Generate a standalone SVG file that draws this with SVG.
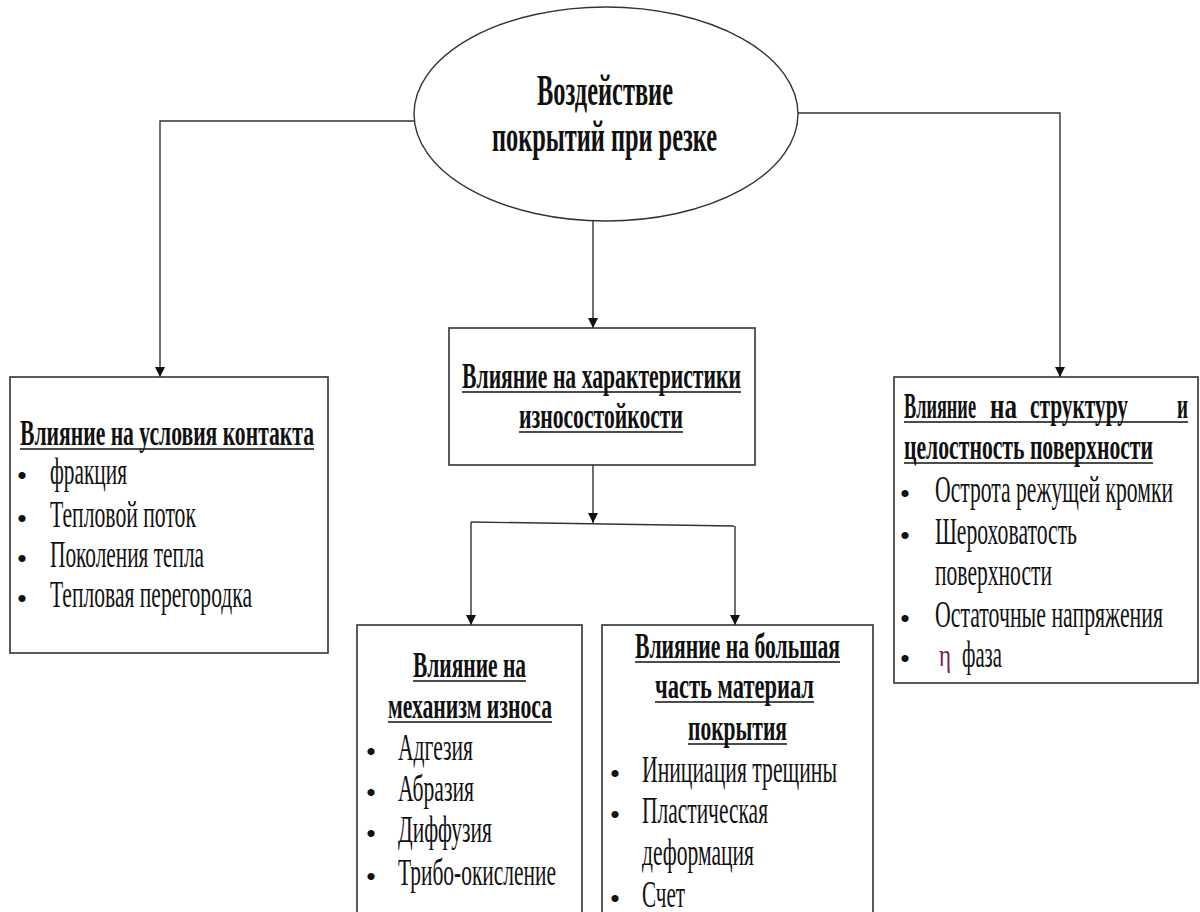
<svg xmlns="http://www.w3.org/2000/svg" width="1200" height="912" viewBox="0 0 1200 912">
<style>
.box{fill:#fff;stroke:#333;stroke-width:1.6}
.ln{fill:none;stroke:#333;stroke-width:1.4}
.ul{stroke:#111;stroke-width:1.6}
.h{font-family:"Liberation Serif","Times New Roman",serif;font-weight:bold;font-size:35px;fill:#111}
.t{font-family:"Liberation Serif","Times New Roman",serif;font-size:37px;fill:#111}
.b{font-family:"Liberation Serif","Times New Roman",serif;font-size:30px;fill:#111;text-anchor:middle}
.e{font-family:"Liberation Serif","Times New Roman",serif;font-weight:bold;font-size:44px;fill:#111}
.eta{font-family:"Liberation Serif","Times New Roman",serif;font-size:32px;fill:#7b1c4e}
</style>
<defs>
<marker id="arr" viewBox="0 0 10 10" refX="10" refY="5" markerWidth="10" markerHeight="12" markerUnits="userSpaceOnUse" orient="auto">
<path d="M0,0 L10,5 L0,10 z" fill="#111"/>
</marker>
</defs>
<rect width="1200" height="912" fill="#fff"/>
<g id="connectors">
<path class="ln" d="M414,121 L160,121 L160,377" marker-end="url(#arr)"/>
<path class="ln" d="M798,113 L1060,113 L1060,377" marker-end="url(#arr)"/>
<path class="ln" d="M593,220 L593,328" marker-end="url(#arr)"/>
<path class="ln" d="M593,465 L593,523" marker-end="url(#arr)"/>
<path class="ln" d="M471,522 L734,526"/>
<path class="ln" d="M471,522 L471,625" marker-end="url(#arr)"/>
<path class="ln" d="M735,526 L735,625" marker-end="url(#arr)"/>
</g>
<g id="root">
<ellipse cx="606" cy="114" rx="192" ry="107" fill="#fff" stroke="#333" stroke-width="1.4"/>
<text class="e" x="537" y="105" textLength="136" lengthAdjust="spacingAndGlyphs">Воздействие</text>
<text class="e" x="492" y="151" textLength="225" lengthAdjust="spacingAndGlyphs">покрытий при резке</text>
</g>
<g id="contact">
<rect class="box" x="10" y="377" width="318" height="276"/>
<text class="h" x="20" y="445" textLength="294" lengthAdjust="spacingAndGlyphs">Влияние на условия контакта</text>
<line class="ul" x1="20" y1="449" x2="314" y2="449"/>
<text class="b" x="22" y="486">•</text><text class="t" x="50" y="484" textLength="77" lengthAdjust="spacingAndGlyphs">фракция</text>
<text class="b" x="22" y="529">•</text><text class="t" x="50" y="527" textLength="146" lengthAdjust="spacingAndGlyphs">Тепловой поток</text>
<text class="b" x="22" y="569">•</text><text class="t" x="50" y="567" textLength="154" lengthAdjust="spacingAndGlyphs">Поколения тепла</text>
<text class="b" x="22" y="609">•</text><text class="t" x="50" y="607" textLength="202" lengthAdjust="spacingAndGlyphs">Тепловая перегородка</text>
</g>
<g id="wear">
<rect class="box" x="449" y="328" width="306" height="137"/>
<text class="h" x="462" y="388" textLength="279" lengthAdjust="spacingAndGlyphs">Влияние на характеристики</text>
<line class="ul" x1="462" y1="392" x2="741" y2="392"/>
<text class="h" x="519" y="428" textLength="164" lengthAdjust="spacingAndGlyphs">износостойкости</text>
<line class="ul" x1="519" y1="432" x2="683" y2="432"/>
</g>
<g id="surface">
<rect class="box" x="894" y="377" width="304" height="306"/>
<text class="h" x="904" y="418" textLength="72" lengthAdjust="spacingAndGlyphs">Влияние</text>
<text class="h" x="990" y="418" textLength="27" lengthAdjust="spacingAndGlyphs">на</text>
<text class="h" x="1030" y="418" textLength="98" lengthAdjust="spacingAndGlyphs">структуру</text>
<text class="h" x="1177" y="418" textLength="11" lengthAdjust="spacingAndGlyphs">и</text>
<line class="ul" x1="904" y1="422" x2="1188" y2="422"/>
<text class="h" x="904" y="459" textLength="249" lengthAdjust="spacingAndGlyphs">целостность поверхности</text>
<line class="ul" x1="904" y1="463" x2="1153" y2="463"/>
<text class="b" x="905" y="504">•</text><text class="t" x="935" y="502" textLength="238" lengthAdjust="spacingAndGlyphs">Острота режущей кромки</text>
<text class="b" x="905" y="546">•</text><text class="t" x="935" y="544" textLength="142" lengthAdjust="spacingAndGlyphs">Шероховатость</text>
<text class="t" x="935" y="585" textLength="117" lengthAdjust="spacingAndGlyphs">поверхности</text>
<text class="b" x="905" y="629">•</text><text class="t" x="935" y="627" textLength="228" lengthAdjust="spacingAndGlyphs">Остаточные напряжения</text>
<text class="b" x="905" y="669">•</text><text class="eta" x="939" y="666" textLength="12" lengthAdjust="spacingAndGlyphs">η</text><text class="t" x="962" y="667" textLength="40" lengthAdjust="spacingAndGlyphs">фаза</text>
</g>
<g id="mechanism">
<rect class="box" x="357" y="625" width="225" height="300"/>
<text class="h" x="413" y="677" textLength="113" lengthAdjust="spacingAndGlyphs">Влияние на</text>
<line class="ul" x1="413" y1="681" x2="526" y2="681"/>
<text class="h" x="388" y="718" textLength="164" lengthAdjust="spacingAndGlyphs">механизм износа</text>
<line class="ul" x1="388" y1="722" x2="552" y2="722"/>
<text class="b" x="371" y="762">•</text><text class="t" x="398" y="760" textLength="75" lengthAdjust="spacingAndGlyphs">Адгезия</text>
<text class="b" x="371" y="803">•</text><text class="t" x="398" y="801" textLength="76" lengthAdjust="spacingAndGlyphs">Абразия</text>
<text class="b" x="371" y="844">•</text><text class="t" x="398" y="842" textLength="94" lengthAdjust="spacingAndGlyphs">Диффузия</text>
<text class="b" x="371" y="887">•</text><text class="t" x="398" y="885" textLength="158" lengthAdjust="spacingAndGlyphs">Трибо-окисление</text>
</g>
<g id="bulk">
<rect class="box" x="602" y="625" width="271" height="300"/>
<text class="h" x="635" y="658" textLength="205" lengthAdjust="spacingAndGlyphs">Влияние на большая</text>
<line class="ul" x1="635" y1="662" x2="840" y2="662"/>
<text class="h" x="655" y="698" textLength="159" lengthAdjust="spacingAndGlyphs">часть материал</text>
<line class="ul" x1="655" y1="702" x2="814" y2="702"/>
<text class="h" x="688" y="740" textLength="99" lengthAdjust="spacingAndGlyphs">покрытия</text>
<line class="ul" x1="688" y1="744" x2="787" y2="744"/>
<text class="b" x="615" y="784">•</text><text class="t" x="642" y="782" textLength="195" lengthAdjust="spacingAndGlyphs">Инициация трещины</text>
<text class="b" x="615" y="825">•</text><text class="t" x="642" y="823" textLength="126" lengthAdjust="spacingAndGlyphs">Пластическая</text>
<text class="t" x="642" y="865" textLength="112" lengthAdjust="spacingAndGlyphs">деформация</text>
<text class="b" x="615" y="909">•</text><text class="t" x="642" y="907" textLength="43" lengthAdjust="spacingAndGlyphs">Счет</text>
</g>
</svg>
